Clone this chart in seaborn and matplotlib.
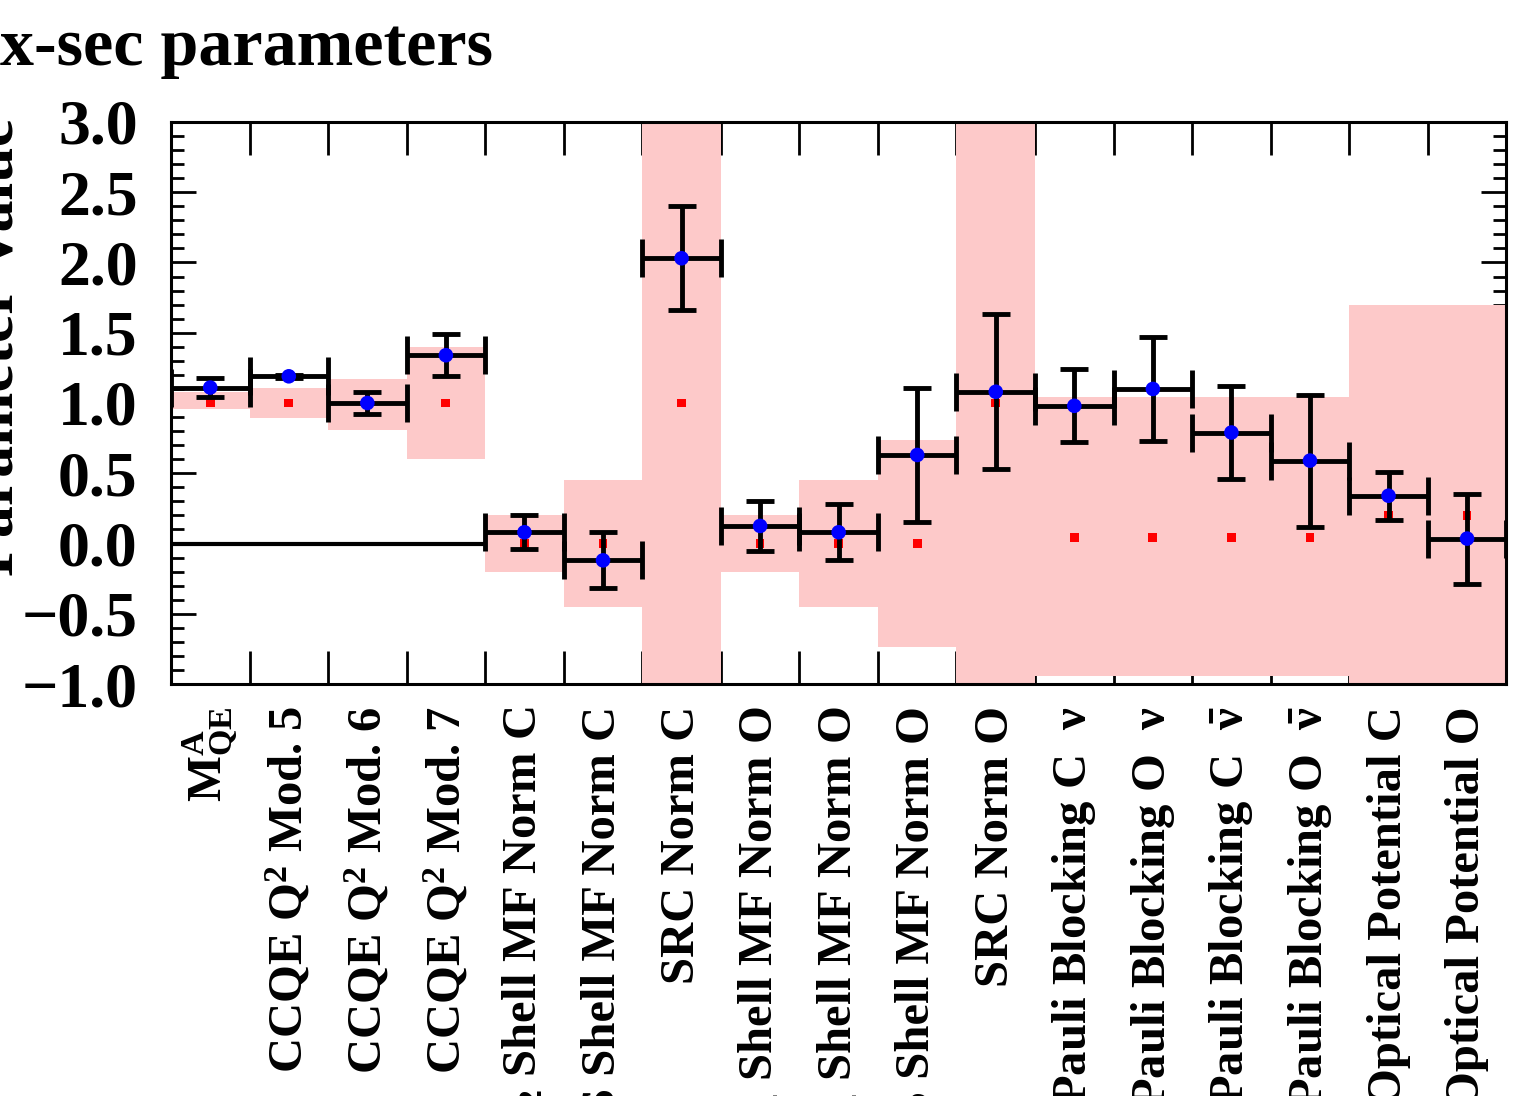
import numpy as np
import pandas as pd
import seaborn as sns
import matplotlib.pyplot as plt
from matplotlib.ticker import MultipleLocator, FixedLocator

# parameter names (x axis)
params = [r'M$^{A}_{QE}$', r'CCQE Q$^{2}$ Mod. 5', r'CCQE Q$^{2}$ Mod. 6', r'CCQE Q$^{2}$ Mod. 7',
          r'P$_{3/2}$ Shell MF Norm C', 'S Shell MF Norm C', 'SRC Norm C',
          r'P$_{1/2}$ Shell MF Norm O', r'P$_{3/2}$ Shell MF Norm O', 'S Shell MF Norm O', 'SRC Norm O',
          r'Pauli Blocking C  $\nu$', r'Pauli Blocking O  $\nu$',
          r'Pauli Blocking C  $\bar{\nu}$', r'Pauli Blocking O  $\bar{\nu}$',
          'Optical Potential C', 'Optical Potential O']

# post-fit values and errors (blue)
fit_val = [1.11, 1.19, 1.00, 1.34, 0.08, -0.12, 2.03, 0.125, 0.08, 0.63, 1.08,
           0.98, 1.10, 0.79, 0.59, 0.34, 0.035]
fit_err = [0.065, 0.01, 0.075, 0.15, 0.12, 0.20, 0.37, 0.18, 0.20, 0.48, 0.55,
           0.26, 0.37, 0.33, 0.47, 0.17, 0.32]

# prior nominal (red)
prior_val = [1.0, 1.0, 1.0, 1.0, 0.0, 0.0, 1.0, 0.0, 0.0, 0.0, 1.0,
             0.04, 0.04, 0.04, 0.04, 0.2, 0.2]

# prior uncertainty band (pink)
band_lo = [0.96, 0.89, 0.81, 0.60, -0.20, -0.45, -1.5, -0.20, -0.45, -0.74, -1.5,
           -0.94, -0.94, -0.94, -0.94, -1.3, -1.3]
band_hi = [1.08, 1.11, 1.17, 1.40, 0.20, 0.45, 3.5, 0.20, 0.45, 0.74, 3.5,
           1.04, 1.04, 1.04, 1.04, 1.70, 1.70]

n_zero_line = 4  # parameters with the flat line at 0

df = pd.DataFrame({'pos': np.arange(len(params)), 'fit': fit_val, 'err': fit_err,
                   'prior': prior_val, 'lo': band_lo, 'hi': band_hi})

sns.set_theme(style='ticks')
plt.rcParams['font.family'] = ['Liberation Serif', 'DejaVu Serif']
plt.rcParams['font.weight'] = 'bold'
plt.rcParams['text.color'] = 'black'
plt.rcParams['axes.labelcolor'] = 'black'
plt.rcParams['xtick.color'] = 'black'
plt.rcParams['ytick.color'] = 'black'
plt.rcParams['mathtext.fontset'] = 'custom'
plt.rcParams['mathtext.rm'] = 'Liberation Serif:bold'
plt.rcParams['mathtext.it'] = 'Liberation Serif:italic:bold'
plt.rcParams['mathtext.bf'] = 'Liberation Serif:bold'
plt.rcParams['mathtext.default'] = 'rm'

fig = plt.figure(figsize=(15.36, 10.96), dpi=100)
ax = fig.add_axes([0.1113, 0.3759, 0.8694, 0.5128])

pink = '#fdc9c9'
ax.bar(df['pos'], df['hi'] - df['lo'], bottom=df['lo'], width=1.0, color=pink,
       edgecolor='none', zorder=1)

ax.hlines(0, df['pos'][0] - 0.5, df['pos'][n_zero_line - 1] + 0.5, color='black', lw=3, zorder=2)

sns.scatterplot(data=df, x='pos', y='prior', marker='s', s=40, color='red',
                edgecolor='none', ax=ax, zorder=3)

# horizontal bars across the bin, vertical bars for the error
ax.errorbar(df['pos'], df['fit'], xerr=0.5, fmt='none', ecolor='black',
            elinewidth=3.5, capsize=14, capthick=3.5, zorder=4)
ax.errorbar(df['pos'], df['fit'], yerr=df['err'], fmt='none', ecolor='black',
            elinewidth=3.5, capsize=10, capthick=3.5, zorder=4)

sns.scatterplot(data=df, x='pos', y='fit', marker='o', s=110, color='blue',
                edgecolor='none', ax=ax, zorder=5)

ax.set_xlim(-0.5, len(params) - 0.5)
ax.set_ylim(-1.0, 3.0)
ax.set_xlabel('')
ax.set_ylabel('')

ax.xaxis.set_major_locator(FixedLocator(df['pos']))
ax.set_xticklabels(params, rotation=90, ha='center', va='top', fontsize=35,
                   fontweight='bold', color='black')
ax.xaxis.set_minor_locator(FixedLocator(df['pos'][1:] - 0.5))
ax.tick_params(axis='x', which='major', length=0, pad=16)
ax.tick_params(axis='x', which='minor', direction='in', length=24, width=2,
               top=True, bottom=True, color='black')

ax.yaxis.set_minor_locator(MultipleLocator(0.1))
ax.set_yticks(np.arange(-1.0, 3.01, 0.5))
ax.set_yticklabels([f'{v:.1f}'.replace('-', '\u2212') for v in np.arange(-1.0, 3.01, 0.5)],
                   fontsize=46, fontweight='bold', color='black')
ax.tick_params(axis='y', which='major', direction='in', length=18, width=2,
               left=True, right=True, pad=24, color='black')
ax.tick_params(axis='y', which='minor', direction='in', length=9.5, width=2,
               left=True, right=True, color='black')

for sp in ax.spines.values():
    sp.set_linewidth(2.2)
    sp.set_color('black')

fig.text(0.0, 1 - 65 / 1096, 'x-sec parameters', fontsize=49, fontweight='bold',
         ha='left', va='baseline', color='black')
fig.text(27 / 1536, 1 - 347 / 1096, 'Parameter Value', rotation=90, fontsize=46,
         fontweight='bold', ha='right', va='center', color='black')

fig.savefig('out.png', dpi=100)
